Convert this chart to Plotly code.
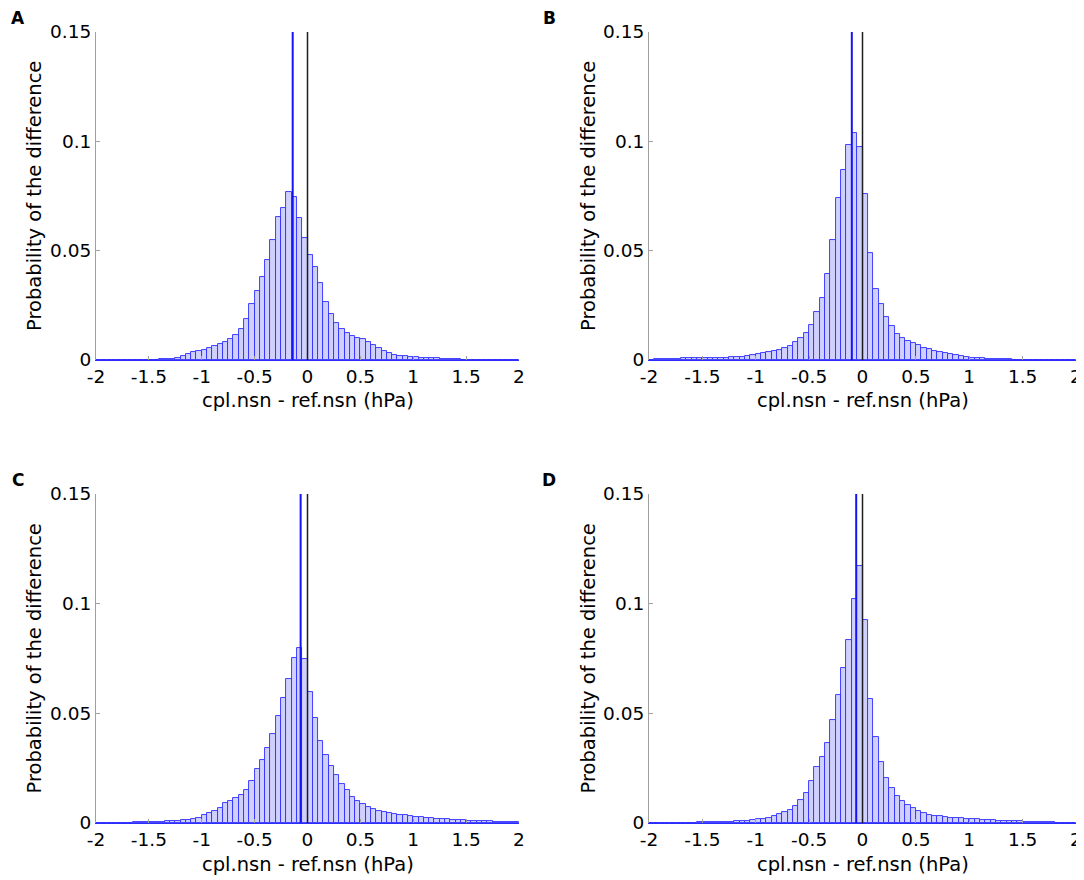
import numpy as np
import plotly.graph_objects as go
from plotly.subplots import make_subplots

# bin centres, 0.05 hPa bins from -2 to 2
bin_centres = np.round(np.linspace(-1.975, 1.975, 80), 3)

# probability per bin
prob_a = [0.0001, 0.0001, 0.0001, 0.0001, 0.0001, 0.0001, 0.0001, 0.0002, 0.0002, 0.0002,
          0.0002, 0.0002, 0.0003, 0.0005, 0.0006, 0.0011, 0.0018, 0.0027, 0.0037, 0.0043,
          0.0047, 0.0053, 0.0062, 0.0072, 0.0081, 0.0096, 0.0114, 0.0142, 0.0187, 0.0254,
          0.0315, 0.0378, 0.0457, 0.0548, 0.0652, 0.0696, 0.0768, 0.0746, 0.0650, 0.0560,
          0.0480, 0.0426, 0.0350, 0.0266, 0.0209, 0.0168, 0.0140, 0.0122, 0.0110, 0.0099,
          0.0094, 0.0084, 0.0069, 0.0056, 0.0041, 0.0030, 0.0024, 0.0020, 0.0017, 0.0014,
          0.0012, 0.0011, 0.0010, 0.0009, 0.0008, 0.0006, 0.0005, 0.0004, 0.0003, 0.0002,
          0.0002, 0.0002, 0.0002, 0.0001, 0.0001, 0.0001, 0.0001, 0.0001, 0.0001, 0.0001]

prob_b = [0.0002, 0.0003, 0.0004, 0.0005, 0.0006, 0.0006, 0.0007, 0.0007, 0.0008, 0.0008,
          0.0010, 0.0010, 0.0011, 0.0011, 0.0011, 0.0012, 0.0012, 0.0013, 0.0018, 0.0024,
          0.0027, 0.0032, 0.0035, 0.0040, 0.0046, 0.0053, 0.0064, 0.0081, 0.0099, 0.0122,
          0.0161, 0.0218, 0.0283, 0.0393, 0.0551, 0.0742, 0.0871, 0.0984, 0.1039, 0.0975,
          0.0760, 0.0490, 0.0327, 0.0254, 0.0198, 0.0155, 0.0120, 0.0102, 0.0088, 0.0078,
          0.0067, 0.0056, 0.0049, 0.0041, 0.0035, 0.0032, 0.0027, 0.0023, 0.0017, 0.0014,
          0.0011, 0.0009, 0.0008, 0.0006, 0.0005, 0.0004, 0.0003, 0.0003, 0.0002, 0.0002,
          0.0001, 0.0001, 0.0001, 0.0001, 0.0001, 0.0001, 0.0001, 0.0001, 0.0001, 0.0001]

prob_c = [0.0001, 0.0001, 0.0001, 0.0001, 0.0002, 0.0002, 0.0002, 0.0003, 0.0003, 0.0003,
          0.0004, 0.0005, 0.0006, 0.0008, 0.0009, 0.0011, 0.0012, 0.0015, 0.0018, 0.0024,
          0.0037, 0.0046, 0.0056, 0.0069, 0.0090, 0.0102, 0.0113, 0.0129, 0.0152, 0.0193,
          0.0247, 0.0289, 0.0344, 0.0408, 0.0486, 0.0568, 0.0655, 0.0754, 0.0796, 0.0748,
          0.0598, 0.0480, 0.0375, 0.0308, 0.0259, 0.0219, 0.0180, 0.0152, 0.0120, 0.0100,
          0.0085, 0.0073, 0.0064, 0.0056, 0.0050, 0.0046, 0.0041, 0.0038, 0.0035, 0.0032,
          0.0029, 0.0026, 0.0023, 0.0021, 0.0020, 0.0018, 0.0017, 0.0015, 0.0014, 0.0012,
          0.0011, 0.0010, 0.0009, 0.0008, 0.0007, 0.0006, 0.0005, 0.0004, 0.0003, 0.0003]

prob_d = [0.0001, 0.0001, 0.0001, 0.0001, 0.0002, 0.0002, 0.0002, 0.0002, 0.0002, 0.0003,
          0.0003, 0.0003, 0.0003, 0.0004, 0.0005, 0.0006, 0.0008, 0.0009, 0.0011, 0.0014,
          0.0017, 0.0020, 0.0024, 0.0030, 0.0040, 0.0050, 0.0061, 0.0079, 0.0107, 0.0139,
          0.0190, 0.0254, 0.0302, 0.0367, 0.0469, 0.0583, 0.0708, 0.0836, 0.1020, 0.1171,
          0.0927, 0.0566, 0.0391, 0.0280, 0.0206, 0.0158, 0.0123, 0.0102, 0.0084, 0.0067,
          0.0055, 0.0044, 0.0038, 0.0034, 0.0030, 0.0027, 0.0024, 0.0023, 0.0021, 0.0020,
          0.0018, 0.0017, 0.0015, 0.0014, 0.0012, 0.0011, 0.0010, 0.0009, 0.0008, 0.0007,
          0.0006, 0.0005, 0.0004, 0.0004, 0.0003, 0.0003, 0.0002, 0.0002, 0.0001, 0.0001]

panel_letters = ["A", "B", "C", "D"]
mean_diff = [-0.14, -0.10, -0.065, -0.059]

x_title = "cpl.nsn - ref.nsn (hPa)"
y_title = "Probability of the difference"

FONT = "DejaVu Sans"
OFF = 8  # page body margin
W, H = 1084 - OFF, 880 - OFF
BLUE = "rgb(45,45,255)"

fig = make_subplots(rows=2, cols=2)

# panel boxes in page pixels: (left, right, top, bottom)
boxes = [(96, 519, 32, 360), (649, 1076, 32, 360),
         (96, 519, 494, 823), (649, 1076, 494, 823)]
cells = [(1, 1), (1, 2), (2, 1), (2, 2)]
all_probs = [prob_a, prob_b, prob_c, prob_d]


def px(v):
    return (v - OFF) / W


def py(v):
    return 1 - (v - OFF) / H


for k, (probs, (r, c)) in enumerate(zip(all_probs, cells)):
    fig.add_trace(go.Bar(
        x=bin_centres, y=probs, width=0.05,
        marker=dict(color="rgb(208,208,252)",
                    line=dict(color=BLUE, width=0.9)),
        showlegend=False, hoverinfo="x+y"), row=r, col=c)

    left, right, top, bottom = boxes[k]
    axn = "" if k == 0 else str(k + 1)
    fig.layout["xaxis" + axn].update(domain=[px(left), px(right)])
    fig.layout["yaxis" + axn].update(domain=[py(bottom), py(top)])

    xref = "x" + axn
    yref = "y" + axn
    # mean difference line and zero line
    fig.add_shape(type="line", xref=xref, yref=yref + " domain",
                  x0=mean_diff[k], x1=mean_diff[k], y0=0, y1=1,
                  line=dict(color="rgb(20,20,245)", width=2))
    fig.add_shape(type="line", xref=xref, yref=yref + " domain",
                  x0=0, x1=0, y0=0, y1=1,
                  line=dict(color="rgb(30,30,30)", width=1.5))

    # axis titles
    ylab_x = 34 if c == 1 else 588
    fig.add_annotation(text=y_title, xref="paper", yref="paper",
                       x=px(ylab_x), y=py((top + bottom) / 2),
                       xanchor="center", yanchor="middle",
                       textangle=-90, showarrow=False,
                       font=dict(family=FONT, size=19.5, color="black"))
    fig.add_annotation(text=x_title, xref="paper", yref="paper",
                       x=px((left + right) / 2), y=py(bottom + 41),
                       xanchor="center", yanchor="middle",
                       showarrow=False,
                       font=dict(family=FONT, size=19.5, color="black"))
    # panel letter
    fig.add_annotation(text="<b>" + panel_letters[k] + "</b>",
                       xref="paper", yref="paper",
                       x=px(18 if c == 1 else 549), y=py(top - 14),
                       xanchor="center", yanchor="middle",
                       showarrow=False,
                       font=dict(family=FONT, size=17, color="black"))

# the near-empty tail bins show as a blue line along the x axis
fig.update_xaxes(range=[-2, 2], tickvals=[-2, -1.5, -1, -0.5, 0, 0.5, 1, 1.5, 2],
                 ticktext=["-2", "-1.5", "-1", "-0.5", "0", "0.5", "1", "1.5", "2"],
                 showline=True, linecolor=BLUE, linewidth=1.2,
                 ticks="inside", ticklen=4, tickcolor="#a0a0a0",
                 showgrid=False, zeroline=False, automargin=False,
                 tickfont=dict(family=FONT, size=18.5, color="black"))
fig.update_yaxes(range=[0, 0.15], tickvals=[0, 0.05, 0.1, 0.15],
                 ticktext=["0", "0.05", "0.1", "0.15"],
                 showline=True, linecolor="#a0a0a0", linewidth=1,
                 ticks="inside", ticklen=4, tickcolor="#a0a0a0",
                 showgrid=False, zeroline=False, automargin=False,
                 tickfont=dict(family=FONT, size=18.5, color="black"))

fig.update_layout(width=W, height=H, margin=dict(l=0, r=0, t=0, b=0),
                  plot_bgcolor="white", paper_bgcolor="white",
                  bargap=0, font=dict(family=FONT))

fig.write_html("out.html")
